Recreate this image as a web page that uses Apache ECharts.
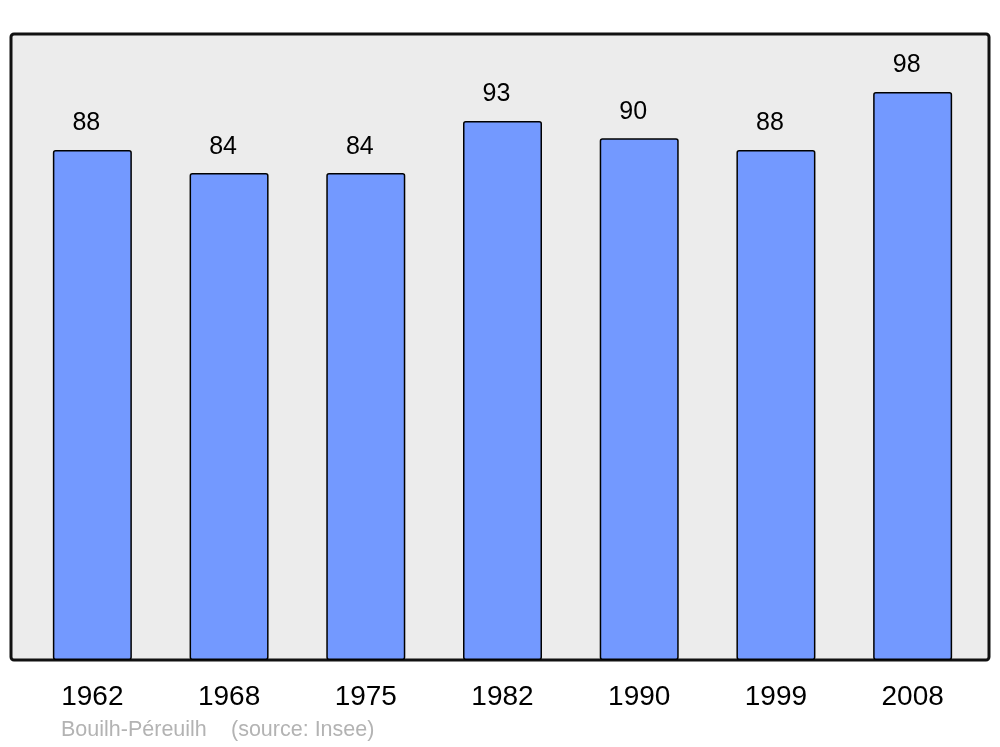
<!DOCTYPE html>
<html>
<head>
<meta charset="utf-8">
<script src="https://cdn.jsdelivr.net/npm/echarts@6/dist/echarts.min.js"></script>
<style>
  html, body { margin: 0; padding: 0; background: #fff; }
  #chart { width: 1000px; height: 747px; }
</style>
</head>
<body>
<div id="chart"></div>
<script>
// années du recensement et population
const years = ['1962', '1968', '1975', '1982', '1990', '1999', '2008']
const population = [88, 84, 84, 93, 90, 88, 98]
const commune = 'Bouilh-Péreuilh'
const source = '(source: Insee)'

const chart = echarts.init(document.getElementById('chart'))

const option = {
  backgroundColor: '#ffffff',
  animation: false,
  textStyle: { fontFamily: 'Liberation Sans, Arial, sans-serif' },
  grid: { left: 24, right: 19, top: 34, bottom: 87 },
  // cadre gris derrière les barres
  graphic: [
    {
      type: 'rect',
      z: -10,
      shape: { x: 11, y: 34, width: 978, height: 626, r: 3 },
      style: { fill: '#ececec', stroke: '#111', lineWidth: 3 }
    },
    {
      type: 'text',
      left: 61, top: 719,
      style: { text: commune, fill: '#b3b3b3', font: '21.5px Liberation Sans, Arial, sans-serif' }
    },
    {
      type: 'text',
      left: 231, top: 719,
      style: { text: source, fill: '#b3b3b3', font: '21.5px Liberation Sans, Arial, sans-serif' }
    }
  ],
  xAxis: {
    type: 'category',
    data: years,
    axisLine: { show: false },
    axisTick: { show: false },
    axisLabel: { color: '#000', fontSize: 28, margin: 23 }
  },
  yAxis: {
    type: 'value',
    min: 0,
    max: 108,
    show: false,
    splitLine: { show: false }
  },
  series: [
    {
      type: 'bar',
      data: population,
      barWidth: 79,
      itemStyle: {
        color: '#7399ff',
        borderColor: '#000',
        borderWidth: 1.5,
        borderRadius: 2
      },
      label: {
        show: true,
        position: 'top',
        distance: 14,
        offset: [-6, 0],
        color: '#000',
        fontSize: 25
      }
    }
  ]
}

chart.setOption(option)
</script>
</body>
</html>
